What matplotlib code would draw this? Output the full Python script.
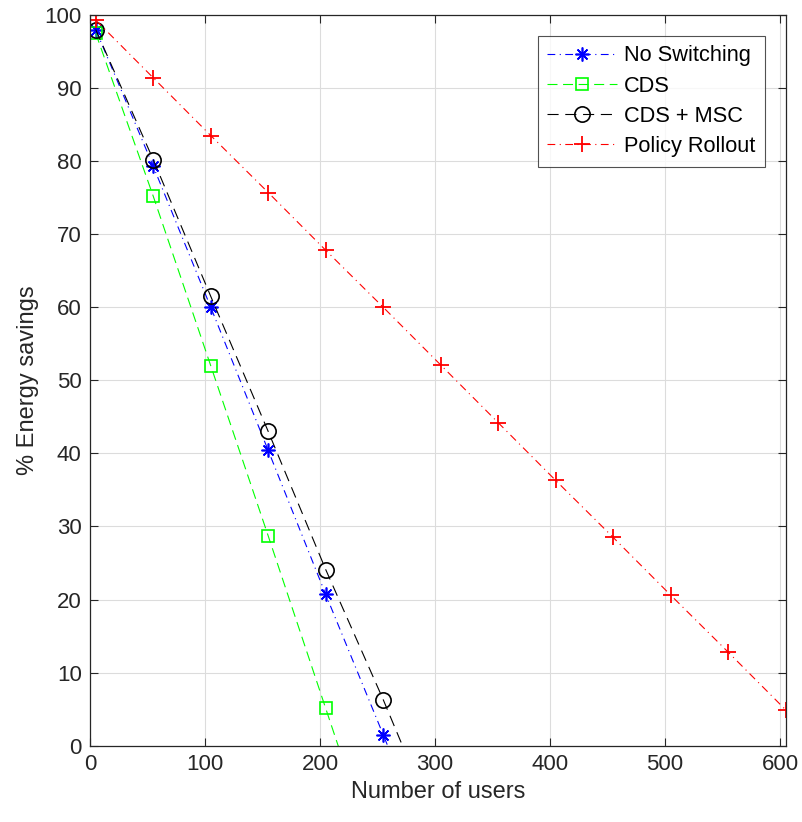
import numpy as np
import matplotlib.pyplot as plt

plt.rcParams['font.family'] = ['Liberation Sans', 'DejaVu Sans']

users = [5, 55, 105, 155, 205, 255, 305, 355, 405, 455, 505, 555, 605]

no_switching = [98.0, 79.3, 60.0, 40.4, 20.7, 1.5, -18.0]
cds = [97.5, 75.2, 52.0, 28.7, 5.1, -18.5]
cds_msc = [98.0, 80.2, 61.5, 43.0, 24.1, 6.3, -12.5]
policy_rollout = [99.3, 91.4, 83.5, 75.7, 67.8, 60.0, 52.1, 44.2, 36.3, 28.5, 20.6, 12.8, 4.9]

fig = plt.figure(figsize=(8.02, 8.22), dpi=100)
ax = fig.add_axes([0.1122, 0.0928, 0.8675, 0.889])

lw = 0.8
ax.plot(users[:len(no_switching)], no_switching, color=(0, 0, 1), linestyle=(0, (7, 4, 1, 4)),
        lw=lw, marker=(8, 2, 0), markersize=10, markeredgewidth=1.2, label='No Switching')
ax.plot(users[:len(cds)], cds, color=(0, 1, 0), linestyle=(0, (9, 5)), lw=lw,
        marker='s', markersize=9, markerfacecolor='none', markeredgewidth=1.2, label='CDS')
ax.plot(users[:len(cds_msc)], cds_msc, color='black', linestyle=(0, (10, 6)), lw=lw,
        marker='o', markersize=11, markerfacecolor='none', markeredgewidth=1.2, label='CDS + MSC')
ax.plot(users, policy_rollout, color=(1, 0, 0), linestyle=(0, (7, 4, 1, 4)), lw=lw,
        marker='+', markersize=12, markeredgewidth=1.3, label='Policy Rollout')

ax.set_xlim(0, 605)
ax.set_ylim(0, 100)
ax.set_xticks(np.arange(0, 601, 100))
ax.set_yticks(np.arange(0, 101, 10))
ax.grid(True, color='#dcdcdc', lw=0.8)
ax.set_axisbelow(True)
ax.tick_params(direction='in', top=True, right=True, length=6, width=0.8,
               labelsize=16, colors='#262626', pad=6)
for s in ax.spines.values():
    s.set_color('#262626')
    s.set_linewidth(0.9)

ax.set_xlabel('Number of users', fontsize=17, color='#262626')
ax.set_ylabel('% Energy savings', fontsize=17, color='#262626')

leg = ax.legend(loc='upper right', fontsize=15.7, handlelength=3.2, frameon=True,
                fancybox=False, edgecolor='#262626', borderaxespad=0.95,
                labelspacing=0.42, handletextpad=0.3, borderpad=0.45)
leg.get_frame().set_linewidth(0.8)

fig.savefig('out.png', dpi=100)
